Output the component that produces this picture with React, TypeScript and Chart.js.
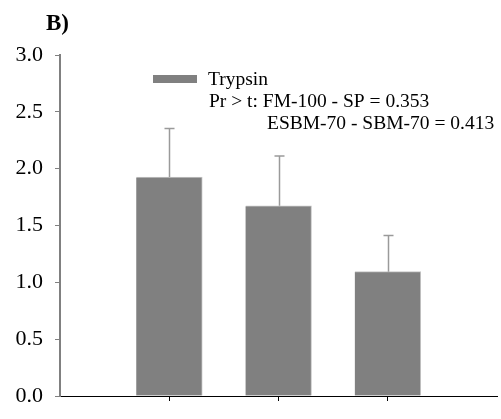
import React, { useEffect, useRef } from "react";
import { Chart, registerables } from "chart.js";

Chart.register(...registerables);

const categories = ["FM-100", "SP", "SBM-70"];
const values = [1.927, 1.673, 1.094];
const errors = [0.426, 0.438, 0.318];
const yTicks = [0, 0.5, 1.0, 1.5, 2.0, 2.5, 3.0];
const panelLabel = "B)";
const seriesName = "Trypsin";
const noteLines = ["Pr > t: FM-100 - SP = 0.353", "ESBM-70 - SBM-70 = 0.413"];

const SERIF = "Liberation Serif, Times New Roman, Times, serif";

export default function App() {
  const ref = useRef<HTMLCanvasElement | null>(null);

  useEffect(() => {
    if (!ref.current) return;
    const labels = ["", ...categories, ""];
    const data = [null, ...values, null];
    const errs = [null, ...errors, null];

    const overlay = {
      id: "overlay",
      afterDatasetsDraw(chart: any) {
        const ctx = chart.ctx;
        const meta = chart.getDatasetMeta(0);
        const ys = chart.scales.y;
        ctx.save();
        ctx.strokeStyle = "#9a9a9a";
        ctx.lineWidth = 1.5;
        meta.data.forEach((bar: any, i: number) => {
          const v = data[i];
          const e = errs[i];
          if (v == null || e == null) return;
          const x = Math.round(bar.x) + 0.5;
          const yTop = ys.getPixelForValue(v + e);
          ctx.beginPath();
          ctx.moveTo(x, bar.y);
          ctx.lineTo(x, yTop);
          ctx.moveTo(x - 5, yTop);
          ctx.lineTo(x + 5, yTop);
          ctx.stroke();
        });
        ctx.restore();
      },
      afterDraw(chart: any) {
        const ctx = chart.ctx;
        ctx.save();
        ctx.fillStyle = "#000";
        ctx.textBaseline = "alphabetic";
        ctx.textAlign = "left";
        ctx.font = `bold 23px ${SERIF}`;
        ctx.fillText(panelLabel, 46, 30);
        ctx.fillStyle = "#808080";
        ctx.fillRect(153, 75, 44, 8);
        ctx.fillStyle = "#000";
        ctx.font = `19.5px ${SERIF}`;
        ctx.fillText(seriesName, 208, 84.5);
        ctx.fillText(noteLines[0], 209, 107);
        ctx.fillText(noteLines[1], 267, 129);
        ctx.restore();
      },
    };

    const chart = new Chart(ref.current, {
      type: "bar",
      data: {
        labels,
        datasets: [
          {
            label: seriesName,
            data,
            backgroundColor: "#808080",
            borderColor: "#c4c4c4",
            borderWidth: { top: 1, right: 1, left: 0, bottom: 0 },
            borderSkipped: false,
            barThickness: 66,
          },
        ],
      },
      plugins: [overlay],
      options: {
        responsive: false,
        animation: false,
        layout: { padding: { top: 55, right: 4, bottom: 7, left: 0 } },
        plugins: {
          legend: { display: false },
          tooltip: { enabled: false },
          title: { display: false },
        },
        scales: {
          x: {
            type: "category",
            offset: false,
            grid: {
              offset: false,
              drawOnChartArea: false,
              drawTicks: true,
              tickLength: 5,
              color: (c: any) =>
                c.index === 0 || c.index === labels.length - 1 ? "rgba(0,0,0,0)" : "#000",
            },
            border: { display: true, color: "#000", width: 1 },
            ticks: { display: false },
          },
          y: {
            type: "linear",
            min: 0,
            max: 3,
            afterFit: (s: any) => {
              s.width = 60;
            },
            afterBuildTicks: (s: any) => {
              s.ticks = yTicks.map((v) => ({ value: v }));
            },
            grid: {
              drawOnChartArea: false,
              drawTicks: true,
              tickLength: 5,
              color: "#808080",
            },
            border: { display: true, color: "#808080", width: 2 },
            ticks: {
              padding: 12,
              color: "#000",
              font: { family: SERIF, size: 22, lineHeight: 1 },
              callback: (v: any) => Number(v).toFixed(1),
            },
          },
        },
      },
    });
    return () => chart.destroy();
  }, []);

  return (
    <div style={{ position: "absolute", left: 0, top: 0, width: 501, height: 419, background: "#fff" }}>
      <canvas ref={ref} width={501} height={419} style={{ display: "block" }} />
    </div>
  );
}
